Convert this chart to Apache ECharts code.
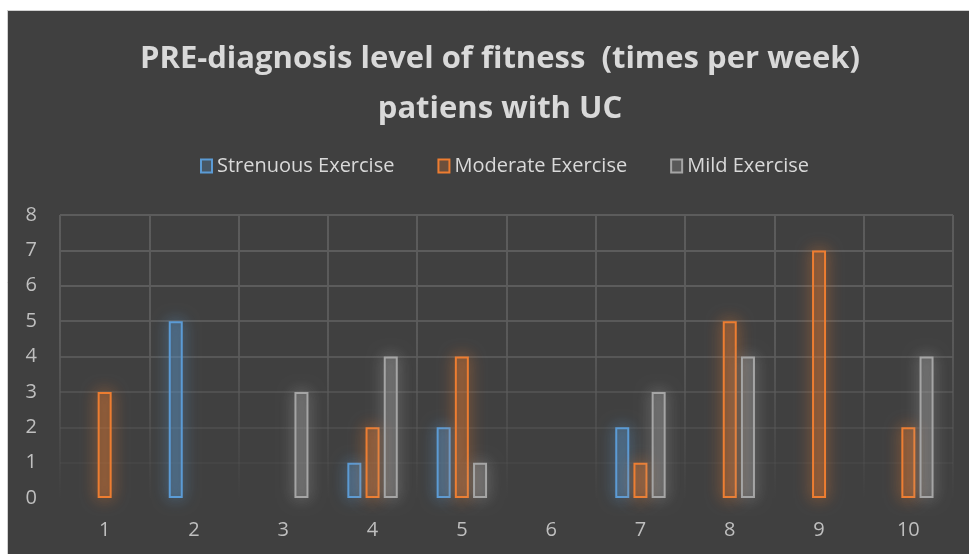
<!DOCTYPE html>
<html lang="en">
<head>
    <meta charset="UTF-8">
    <title>PRE-diagnosis level of fitness</title>
    <style>
        html, body { margin: 0; padding: 0; background: #ffffff; }
        #main { width: 969px; height: 554px; }
    </style>
</head>
<body>
<div id="main"></div>
<script src="https://cdn.jsdelivr.net/npm/echarts@6/dist/echarts.min.js"></script>
<script>
    var categories = ['1', '2', '3', '4', '5', '6', '7', '8', '9', '10'];
    var strenuous = [0, 5, 0, 1, 2, 0, 2, 0, 0, 0];
    var moderate  = [3, 0, 0, 2, 4, 0, 1, 5, 7, 2];
    var mild      = [0, 0, 3, 4, 1, 0, 3, 4, 0, 4];
    var seriesNames = ['Strenuous Exercise', 'Moderate Exercise', 'Mild Exercise'];

    var myChart = echarts.init(document.getElementById('main'));

    // Excel draws nothing for a zero bar
    function noZero(arr) {
        return arr.map(function (v) { return v === 0 ? '-' : v; });
    }

    function barSeries(name, data, rgb) {
        return {
            name: name,
            type: 'bar',
            data: noZero(data),
            barWidth: 14,
            barGap: '30%',
            itemStyle: {
                color: 'rgba(' + rgb + ',0.25)',
                borderColor: 'rgb(' + rgb + ')',
                borderWidth: 2,
                shadowBlur: 16,
                shadowColor: 'rgba(' + rgb + ',0.9)'
            }
        };
    }

    var fontFam = '"Open Sans", sans-serif';

    var option = {
        backgroundColor: '#ffffff',
        animation: false,
        graphic: [
            {
                type: 'rect',
                left: 7, top: 10, z: -10,
                shape: {width: 962, height: 544},
                style: {fill: '#404040', stroke: '#d0d0d0', lineWidth: 1}
            }
        ],
        title: {
            text: 'PRE-diagnosis level of fitness  (times per week)\npatiens with UC',
            left: 495,
            top: 29,
            textAlign: 'center',
            textStyle: {
                color: '#d9d9d9',
                fontSize: 31,
                fontWeight: 'bold',
                fontFamily: fontFam,
                lineHeight: 50
            }
        },
        legend: {
            data: seriesNames,
            left: 195,
            top: 151,
            icon: 'rect',
            itemWidth: 11,
            itemHeight: 13,
            itemGap: 43,
            textStyle: {
                color: '#d9d9d9',
                fontSize: 20,
                fontFamily: fontFam
            }
        },
        grid: {
            left: 60,
            right: 16,
            top: 215,
            bottom: 56
        },
        xAxis: {
            type: 'category',
            data: categories,
            boundaryGap: true,
            axisLine: {show: false},
            axisTick: {show: false},
            axisLabel: {
                color: '#bfbfbf',
                fontSize: 20,
                fontFamily: fontFam,
                margin: 22
            },
            splitLine: {
                show: true,
                interval: 0,
                lineStyle: {
                    width: 2,
                    color: {
                        type: 'linear', x: 0, y: 0, x2: 0, y2: 1,
                        colorStops: [
                            {offset: 0, color: 'rgba(92,92,92,1)'},
                            {offset: 0.45, color: 'rgba(92,92,92,0.9)'},
                            {offset: 1, color: 'rgba(92,92,92,0)'}
                        ]
                    }
                }
            }
        },
        yAxis: {
            type: 'value',
            min: 0,
            max: 8,
            interval: 1,
            axisLine: {show: false},
            axisTick: {show: false},
            axisLabel: {
                color: '#bfbfbf',
                fontSize: 20,
                fontFamily: fontFam,
                margin: 23
            },
            splitLine: {
                lineStyle: {
                    width: 2,
                    color: [
                        'rgba(92,92,92,0)',
                        'rgba(92,92,92,0.2)',
                        'rgba(92,92,92,0.4)',
                        'rgba(92,92,92,0.6)',
                        'rgba(92,92,92,0.8)',
                        'rgba(92,92,92,0.9)',
                        'rgba(92,92,92,1)',
                        'rgba(92,92,92,1)',
                        'rgba(92,92,92,1)'
                    ]
                }
            }
        },
        series: [
            barSeries(seriesNames[0], strenuous, '91,155,213'),
            barSeries(seriesNames[1], moderate, '237,125,49'),
            barSeries(seriesNames[2], mild, '165,165,165')
        ]
    };
    myChart.setOption(option);
</script>
</body>
</html>
